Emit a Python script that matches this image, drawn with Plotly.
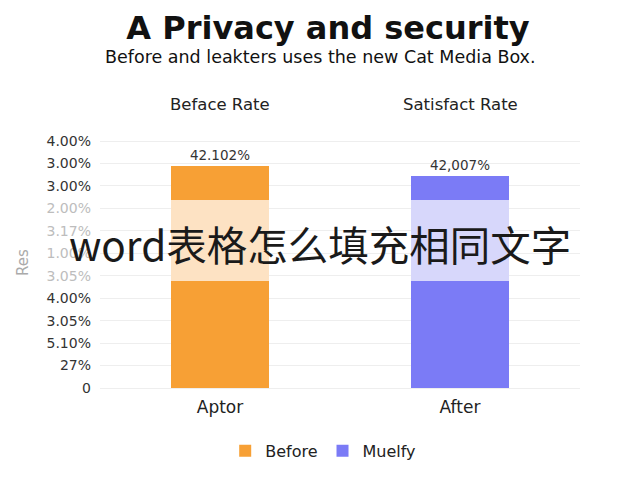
import plotly.graph_objects as go

# chart values
categories = ["Aptor", "After"]
series_names = ["Before", "Muelfy"]
column_heads = ["Beface Rate", "Satisfact Rate"]
lower = [4.78, 4.78]
band = [3.61, 3.61]
upper = [1.51, 1.03]
value_labels = ["42.102%", "42,007%"]

tick_vals = list(range(12))
tick_text = ["0", "27%", "5.10%", "3.05%", "4.00%", "3.05%",
             "1.00%", "3.17%", "2.00%", "3.00%", "3.00%", "4.00%"]
faded_ticks = [5, 6, 7, 8]

dark = ["#F7A035", "#7B7BF6"]
light = ["#FDE2C3", "#D7D7FB"]

ticks = []
for i, t in enumerate(tick_text):
    if i in faded_ticks:
        ticks.append('<span style="color:#BDBDBD">' + t + '</span>')
    else:
        ticks.append(t)

fig = go.Figure()
for i, name in enumerate(series_names):
    fig.add_trace(go.Bar(x=[categories[i]], y=[lower[i]], name=name,
                         legendgroup=name, marker=dict(color=dark[i], line=dict(width=0))))
    fig.add_trace(go.Bar(x=[categories[i]], y=[band[i]], name=name,
                         legendgroup=name, showlegend=False,
                         marker=dict(color=light[i], line=dict(width=0))))
    fig.add_trace(go.Bar(x=[categories[i]], y=[upper[i]], name=name,
                         legendgroup=name, showlegend=False,
                         text=[value_labels[i]], textposition='outside',
                         textfont=dict(size=13.5, color='#333333'),
                         cliponaxis=False,
                         marker=dict(color=dark[i], line=dict(width=0))))

annotations = []
for i, head in enumerate(column_heads):
    annotations.append(dict(text=head, x=categories[i], xref='x', y=1.098, yref='paper',
                            yanchor='middle', showarrow=False,
                            font=dict(size=16.5, color='#222222')))
annotations.append(dict(text="Before and leakters uses the new Cat Media Box.",
                        x=0.46, xref='paper', y=1.275, yref='paper', showarrow=False,
                        xanchor='center', yanchor='middle',
                        font=dict(size=17.5, color='#111111')))
annotations.append(dict(text="word表格怎么填充相同文字",
                        x=0.458, xref='paper', y=0.572, yref='paper', showarrow=False,
                        xanchor='center', yanchor='middle',
                        font=dict(family='Noto Sans CJK SC', size=40.5, color='#1a1a1a')))

fig.update_layout(
    title=dict(text="<b>A Privacy and security</b>", x=0.5, xanchor='center',
               y=0.958, yanchor='middle',
               font=dict(family='DejaVu Sans', size=32, color='#111111')),
    barmode='stack',
    bargap=0.59,
    width=640, height=480,
    margin=dict(l=92, r=68, t=122, b=93),
    plot_bgcolor='white',
    paper_bgcolor='white',
    font=dict(family='DejaVu Sans', size=14, color='#333333'),
    annotations=annotations,
    legend=dict(orientation='h', x=0.465, xanchor='center', y=-0.211, yanchor='middle',
                font=dict(size=16, color='#222222'), traceorder='normal'),
    xaxis=dict(showgrid=False, showline=False, ticks='',
               tickfont=dict(size=17, color='#222222')),
    yaxis=dict(range=[-0.31, 11.49], tickvals=tick_vals, ticktext=ticks,
               showgrid=True, gridcolor='#EEEEEE', zeroline=False,
               ticklabelstandoff=8,
               tickfont=dict(size=14, color='#333333'),
               title=dict(text="Res", font=dict(size=15, color='#AAAAAA'), standoff=14)),
)

fig.write_html("out.html")
